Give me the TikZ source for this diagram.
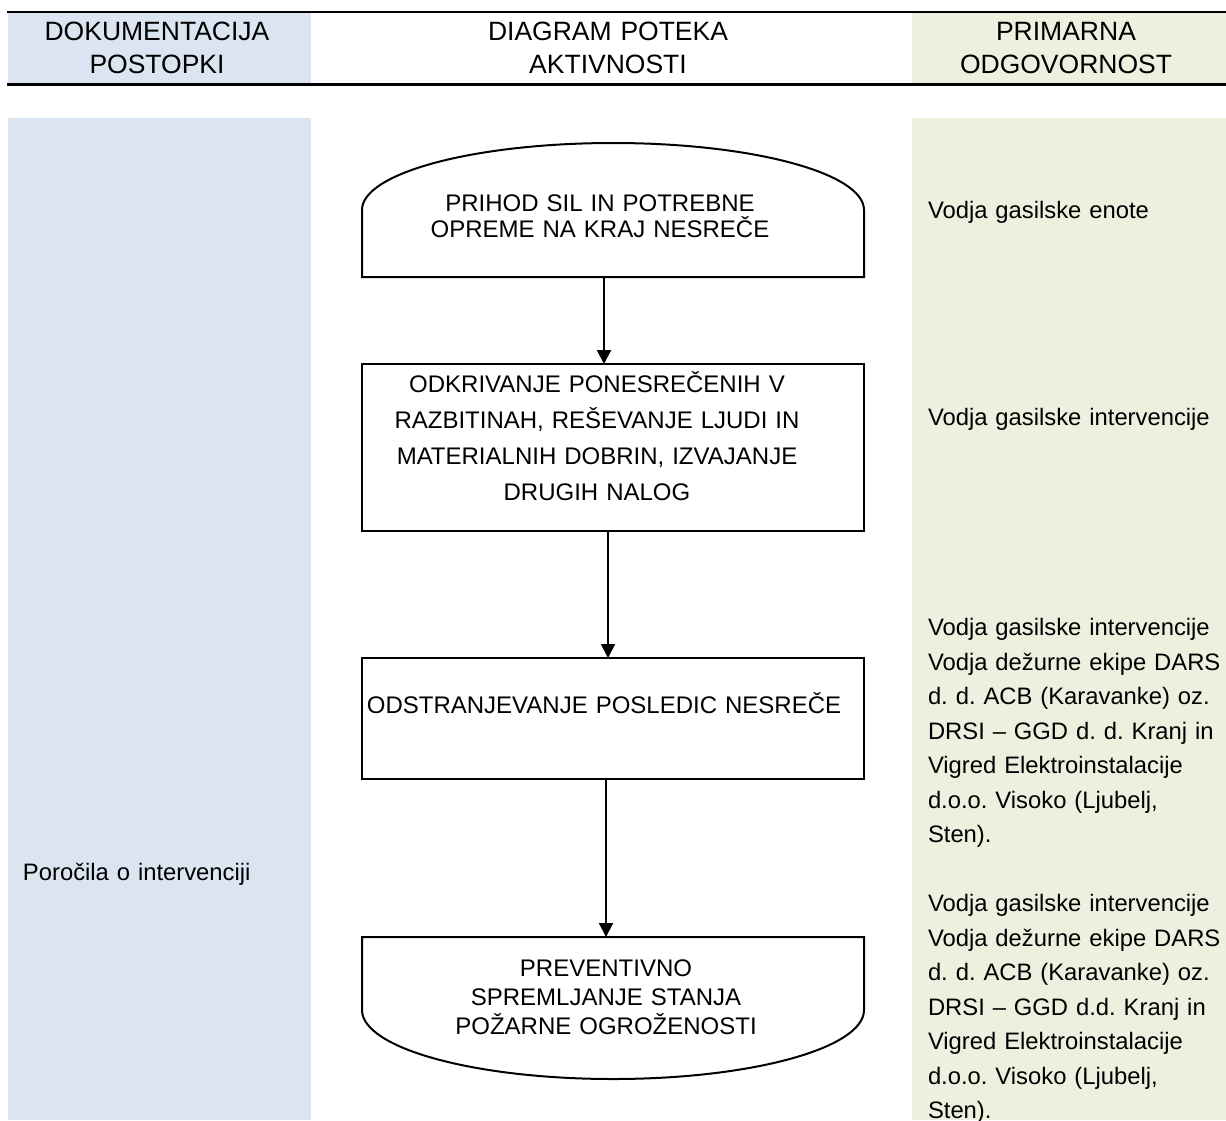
\documentclass[tikz,border=0pt]{standalone}
\usepackage{fontspec}
\setmainfont{Liberation Sans}
\usetikzlibrary{arrows.meta}
\definecolor{docblue}{RGB}{219,229,241}
\definecolor{respgreen}{RGB}{235,241,222}
\begin{document}
\frenchspacing
\begin{tikzpicture}[x=1pt,y=-1pt,
  every node/.style={inner sep=0pt,outer sep=0pt},
  hdr/.style={font=\fontsize{26.5}{33}\selectfont,align=center,text width=300pt,anchor=base},
  flowtxt/.style={font=\fontsize{24}{26}\selectfont,align=center,text width=490pt,anchor=base},
  side/.style={font=\fontsize{23.8}{34.5}\selectfont,align=left,text width=300pt,anchor=base west},
  frame/.style={minimum width=502pt},
  outline/.style={line width=2pt,line join=miter},
  flow/.style={line width=2pt,-{Triangle[length=14pt,width=14pt]}}
]
\useasboundingbox (0,0) rectangle (1226,1120);

% column backgrounds
\fill[docblue] (8,13) rectangle (311,83);
\fill[respgreen] (912,13) rectangle (1226,83);
\fill[docblue] (8,118) rectangle (311,1120);
\fill[respgreen] (912,118) rectangle (1226,1120);

% header rules
\draw[line width=1.7pt] (7,12) -- (1226,12);
\draw[line width=2.7pt] (7,84.5) -- (1226,84.5);

% header titles
\node[hdr] (hdoc) at (157,40.3) {DOKUMENTACIJA\\POSTOPKI};
\node[hdr] (hflow) at (608,40.3) {DIAGRAM POTEKA\\AKTIVNOSTI};
\node[hdr] (hresp) at (1066,40.3) {PRIMARNA\\ODGOVORNOST};

% flow shapes (frames)
\node[frame,minimum height=134pt] (s1) at (613,210) {};
\node[frame,minimum height=167pt,draw,line width=2pt] (s2) at (613,447.5) {};
\node[frame,minimum height=121pt,draw,line width=2pt] (s3) at (613,718.5) {};
\node[frame,minimum height=142pt] (s4) at (613,1008) {};

\draw[outline] (s1.south west) -- ++(0,-67)
  arc[start angle=180,end angle=0,x radius=251pt,y radius=67pt]
  -- (s1.south east) -- cycle;
\draw[outline] (s4.north west) -- (s4.north east) -- ++(0,73)
  arc[start angle=0,end angle=-180,x radius=251pt,y radius=69pt]
  -- cycle;

% flow texts
\node[flowtxt] (t1) at (600,211.6) {PRIHOD SIL IN POTREBNE\\OPREME NA KRAJ NESREČE};
\node[flowtxt,font=\fontsize{24}{36}\selectfont] (t2) at (597,392.6)
  {ODKRIVANJE PONESREČENIH V\\RAZBITINAH, REŠEVANJE LJUDI IN\\MATERIALNIH DOBRIN, IZVAJANJE\\DRUGIH NALOG};
\node[flowtxt] (t3) at (604,713.6) {ODSTRANJEVANJE POSLEDIC NESREČE};
\node[flowtxt,font=\fontsize{24}{29}\selectfont] (t4) at (606,976.6)
  {PREVENTIVNO\\SPREMLJANJE STANJA\\POŽARNE OGROŽENOSTI};

% connectors
\draw[flow] ([xshift=-9pt]s1.south) -- ([xshift=-9pt]s2.north);
\draw[flow] ([xshift=-5pt]s2.south) -- ([xshift=-5pt]s3.north);
\draw[flow] ([xshift=-7pt]s3.south) -- ([xshift=-7pt]s4.north);

% documentation column
\node[side] (doc) at (23,880.5) {Poročila o intervenciji};

% responsibility column
\node[side] (r1) at (928,218.5) {Vodja gasilske enote};
\node[side] (r2) at (928,425.5) {Vodja gasilske intervencije};
\node[side] (r3) at (928,635.5) {Vodja gasilske intervencije\\Vodja dežurne ekipe DARS\\d. d. ACB (Karavanke) oz.\\DRSI – GGD d. d. Kranj in\\Vigred Elektroinstalacije\\d.o.o. Visoko (Ljubelj,\\Sten).};
\node[side] (r4) at (928,911.5) {Vodja gasilske intervencije\\Vodja dežurne ekipe DARS\\d. d. ACB (Karavanke) oz.\\DRSI – GGD d.d. Kranj in\\Vigred Elektroinstalacije\\d.o.o. Visoko (Ljubelj,\\Sten).};
\end{tikzpicture}
\end{document}
